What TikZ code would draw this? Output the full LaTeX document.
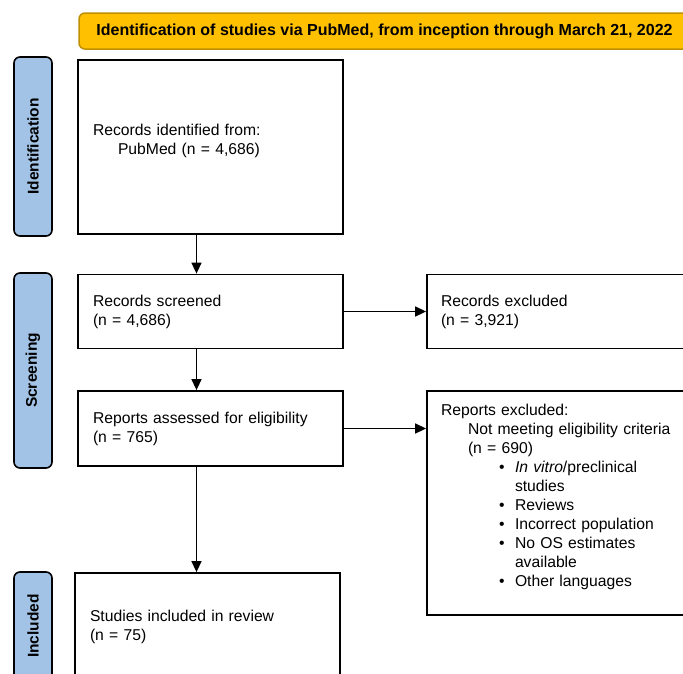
\documentclass[tikz,border=0pt]{standalone}
\usepackage{fontspec}
\setmainfont{Liberation Sans}
\usetikzlibrary{arrows.meta}

\definecolor{bannerfill}{HTML}{FFC000}
\definecolor{bannerline}{HTML}{BF9000}
\definecolor{barfill}{HTML}{A3C3E6}

\newcommand{\bitem}[1]{\hspace*{58pt}\makebox[16pt][l]{\textbullet}#1}

\begin{document}
\begin{tikzpicture}[x=1pt,y=-1pt,
    box/.style={draw,line width=1.8pt,inner sep=0pt,align=left,
      font=\fontsize{15.7}{19}\selectfont},
    phase/.style={draw,line width=1.6pt,fill=barfill,rounded corners=6pt,
      minimum height=38pt,inner sep=0pt,rotate=90,
      font=\bfseries\fontsize{15.5}{18}\selectfont},
    banner/.style={draw=bannerline,line width=1.5pt,fill=bannerfill,
      rounded corners=6pt,inner sep=0pt,
      font=\bfseries\fontsize{16}{18}\selectfont},
    arr/.style={line width=1.5pt,-{Triangle[width=10pt,length=11pt]}},]

    \useasboundingbox (0,0) rectangle (683,673);
    \clip (0,0) rectangle (683,673);

    \node[banner,minimum width=611pt,minimum height=36pt] (title) at (384.5,31)
    {Identification of studies via PubMed, from inception through March 21, 2022};

    % phases on the left
    \node[phase,minimum width=179pt] (phid) at (33,146.5) {Identification};
    \node[phase,minimum width=195pt] (phscr) at (33,370.5) {Screening};
    \node[phase,minimum width=108pt] (phinc) at (33,626) {Included};

    % main column
    \node[box,minimum width=265pt,minimum height=174pt,text width=235pt] (ident) at (210.5,147)
    {Records identified from:\\
      \hspace*{25pt}PubMed (n = 4,686)\\[-4pt]\mbox{}};

    \node[box,minimum width=265pt,minimum height=74pt,text width=235pt] (screen) at (210.5,311.5)
    {Records screened\\
      (n = 4,686)};

    \node[box,minimum width=265pt,minimum height=75pt,text width=235pt] (assess) at (210.5,428.5)
    {Reports assessed for eligibility\\
      (n = 765)};

    \node[box,minimum width=265pt,minimum height=107pt,text width=235pt] (incl) at (207.5,626.5)
    {Studies included in review\\
      (n = 75)};

    % exclusions on the right
    \node[box,minimum width=293pt,minimum height=74pt,text width=265pt] (excl) at (573.5,311.5)
    {Records excluded\\
      (n = 3,921)};

    \node[box,minimum width=293pt,minimum height=224pt,text width=265pt] (repexcl) at (573.5,503)
    {Reports excluded:\\
      \hspace*{27pt}Not meeting eligibility criteria\\
      \hspace*{27pt}(n = 690)\\
      \bitem{\textit{In vitro}/preclinical}\\
      \hspace*{74pt}studies\\
      \bitem{Reviews}\\
      \bitem{Incorrect population}\\
      \bitem{No OS estimates}\\
      \hspace*{74pt}available\\
      \bitem{Other languages}\\[-4pt]\mbox{}};

    % connectors
    \coordinate (ax) at (196.5,0);
    \draw[arr] (ident.south -| ax) -- (screen.north -| ax);
    \draw[arr] (screen.south -| ax) -- (assess.north -| ax);
    \draw[arr] (assess.south -| ax) -- (incl.north -| ax);
    \draw[arr] (screen.east) -- (excl.west);
    \draw[arr] (assess.east) -- (repexcl.west |- assess.east);

  \end{tikzpicture}
\end{document}
